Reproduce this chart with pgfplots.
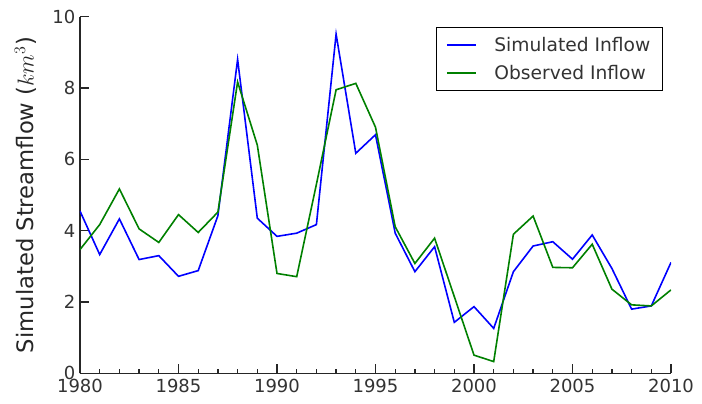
\documentclass[border=0pt]{standalone}
\usepackage{fontspec}
\setmainfont{DejaVu Sans}
\usepackage{pgfplots}
\pgfplotsset{compat=1.18}
\definecolor{simblue}{RGB}{0,0,255}
\definecolor{obsgreen}{RGB}{0,128,0}

\pgfplotstableread{
year sim obs
1980 4.55 3.47
1981 3.33 4.17
1982 4.33 5.17
1983 3.19 4.05
1984 3.30 3.67
1985 2.72 4.45
1986 2.88 3.95
1987 4.42 4.52
1988 8.80 8.17
1989 4.35 6.40
1990 3.84 2.80
1991 3.93 2.71
1992 4.17 5.30
1993 9.51 7.95
1994 6.17 8.13
1995 6.69 6.90
1996 3.93 4.11
1997 2.85 3.08
1998 3.55 3.79
1999 1.43 2.15
2000 1.87 0.51
2001 1.26 0.33
2002 2.85 3.90
2003 3.57 4.41
2004 3.69 2.97
2005 3.20 2.96
2006 3.88 3.62
2007 2.94 2.36
2008 1.80 1.92
2009 1.89 1.89
2010 3.11 2.34
}\flows

\begin{document}
\begin{tikzpicture}
\path[use as bounding box] (-60pt,-22.3pt) rectangle (466.5pt,280pt);
\begin{axis}[
  at={(0,0)}, anchor=south west,
  scale only axis,
  width=443.25pt, height=267.5pt,
  xmin=1980, xmax=2010, ymin=0, ymax=10,
  axis x line*=bottom, axis y line*=left,
  axis line style={line width=1.1pt, black!85},
  xtick={1980,1985,...,2010},
  ytick={0,2,...,10},
  minor x tick num=4,
  tick align=inside,
  major tick length=7pt, minor tick length=3.5pt,
  every tick/.style={black!85, line width=1pt},
  /pgf/number format/1000 sep={},
  /pgf/number format/assume math mode=true,
  tick label style={font=\fontsize{13.5}{15}\selectfont, text=black!80},
  xticklabel style={yshift=-1pt},
  ylabel={Simulated Streamflow ($km^3$)},
  ylabel style={font=\fontsize{17}{19}\selectfont, text=black!85},
  ylabel shift=5pt,
  legend cell align=left,
  legend style={at={(0.9865,0.971)}, anchor=north east, draw=black, line width=0.9pt,
    font=\fontsize{14}{16}\selectfont, text=black!80,
    inner xsep=7pt, inner ysep=5pt, row sep=5pt},
  legend image code/.code={\draw[#1, line width=1.3pt] (0pt,0pt) -- (22pt,0pt);},
]
  \addplot[simblue, line width=1.2pt] table[x=year, y=sim] {\flows};
  \addlegendentry{\hspace{11pt}Simulated Inflow}
  \addplot[obsgreen, line width=1.2pt] table[x=year, y=obs] {\flows};
  \addlegendentry{\hspace{11pt}Observed Inflow}
\end{axis}
\end{tikzpicture}
\end{document}
